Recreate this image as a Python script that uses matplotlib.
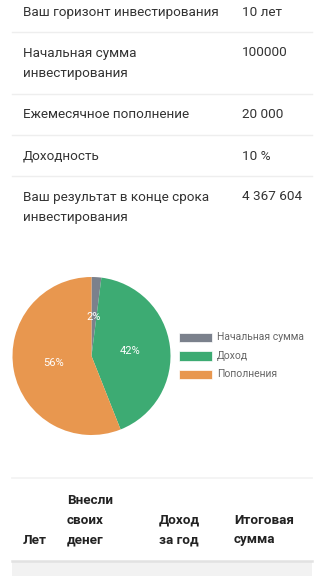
import matplotlib.pyplot as plt

plt.rcParams['font.family'] = ['Roboto', 'DejaVu Sans']

# summary rows: label lines, value
row_labels = [['Ваш горизонт инвестирования'],
              ['Начальная сумма', 'инвестирования'],
              ['Ежемесячное пополнение'],
              ['Доходность'],
              ['Ваш результат в конце срока', 'инвестирования']]
row_values = ['10 лет', '100000', '20 000', '10 %', '4 367 604']

# pie data
pie_labels = ['Начальная сумма', 'Доход', 'Пополнения']
pie_values = [2, 42, 56]
pie_colors = ['#7b818c', '#3dab73', '#e8974f']

# table header
header_cols = [['Лет'], ['Внесли', 'своих', 'денег'], ['Доход', 'за год'], ['Итоговая', 'сумма']]

W, H = 324, 576
fig = plt.figure(figsize=(W / 100, H / 100), dpi=100)
bg = fig.add_axes([0, 0, 1, 1])
bg.set_xlim(0, W)
bg.set_ylim(H, 0)
bg.axis('off')

text_col = '#333333'
line_col = '#eeeeee'

# summary block
row_tops = [12.5, 53, 115, 156, 197]
seps = [32, 94, 135, 176]
for top, lines, val in zip(row_tops, row_labels, row_values):
    for i, ln in enumerate(lines):
        bg.text(23, top + i * 20, ln, fontsize=9.7, color=text_col, va='center')
    bg.text(242, top, val, fontsize=9.7, color=text_col, va='center')
for y in seps:
    bg.plot([12, 312], [y, y], color=line_col, lw=1)

# pie
cx, cy, r = 91.5, 356, 79
pax = fig.add_axes([(cx - r) / W, 1 - (cy + r) / H, 2 * r / W, 2 * r / H])
wedges, _, autotexts = pax.pie(pie_values, colors=pie_colors, startangle=90, counterclock=False,
                               autopct='%d%%', pctdistance=0.49,
                               wedgeprops=dict(linewidth=0),
                               textprops=dict(color='white', fontsize=8))
pax.set_xlim(-1, 1)
pax.set_ylim(-1, 1)
pax.set_aspect('equal')

# legend
for i, (lab, col) in enumerate(zip(pie_labels, pie_colors)):
    y = 337 + i * 18.7
    bg.add_patch(plt.Rectangle((179, y - 4.5), 33, 9.5, facecolor=col, edgecolor='white', lw=0.5))
    bg.text(217, y, lab, fontsize=7.5, color='#666666', va='center')

# table header
bg.plot([12, 312], [478, 478], color='#f2f2f2', lw=1.2)
col_x = [23, 67, 159, 234]
for x, lines in zip(col_x, header_cols):
    n = len(lines)
    for i, ln in enumerate(lines):
        bg.text(x, 540 - (n - 1 - i) * 20, ln, fontsize=9.7, fontweight='bold', color='#222222', va='center')
bg.add_patch(plt.Rectangle((12, 561), 300, 20, facecolor='#f2f2f2', edgecolor='none'))
bg.plot([12, 312], [560.5, 560.5], color='#e2e2e2', lw=1.8)

fig.savefig('out.png', dpi=100)
